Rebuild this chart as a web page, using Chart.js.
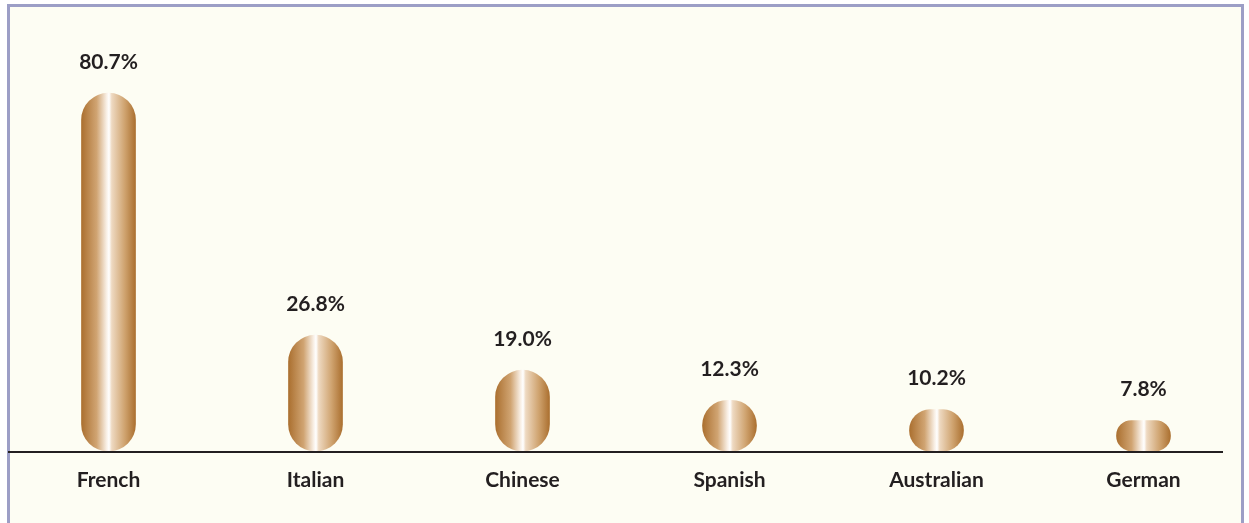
<!DOCTYPE html>
<html>
<head>
<meta charset="utf-8">
<script src="https://cdn.jsdelivr.net/npm/chart.js@4/dist/chart.umd.min.js"></script>
<style>
  html, body { margin: 0; padding: 0; background: #ffffff; }
  #frame {
    position: absolute; left: 7px; top: 4px; width: 1231px; height: 530px;
    border: 3px solid #9c9ec6; border-bottom: none; background: #fdfdf3;
  }
  #wrap { position: absolute; left: 0; top: 0; width: 1249px; height: 523px; }
</style>
</head>
<body>
<div id="frame"></div>
<div id="wrap"><canvas id="chart"></canvas></div>
<script>
'use strict';

// data
const cuisines = ['French', 'Italian', 'Chinese', 'Spanish', 'Australian', 'German'];
const shares = [80.7, 26.8, 19.0, 12.3, 10.2, 7.8];
const shareLabels = ['80.7%', '26.8%', '19.0%', '12.3%', '10.2%', '7.8%'];

const textColor = '#231f20';
const fontFamily = 'Lato, "Open Sans", sans-serif';
const barWidth = 54;

// bronze pill with a soft white highlight down the middle
function bronze(ctx) {
    const chart = ctx.chart;
    const xScale = chart.scales && chart.scales.x;
    const cx = xScale ? xScale.getPixelForValue(ctx.dataIndex) : NaN;
    if (!isFinite(cx)) return '#c89660';
    const g = chart.ctx.createLinearGradient(cx - barWidth / 2, 0, cx + barWidth / 2, 0);
    g.addColorStop(0, '#ab7030');
    g.addColorStop(0.28, '#d0a472');
    g.addColorStop(0.46, '#f8eee3');
    g.addColorStop(0.51, '#ffffff');
    g.addColorStop(0.56, '#eed9c1');
    g.addColorStop(0.8, '#cfa36f');
    g.addColorStop(1, '#ab7030');
    return g;
}

const valueLabels = {
    id: 'valueLabels',
    afterDatasetsDraw(chart) {
        const c = chart.ctx;
        const area = chart.chartArea;
        // baseline
        c.save();
        c.strokeStyle = textColor;
        c.lineWidth = 2;
        c.beginPath();
        c.moveTo(8, area.bottom + 1);
        c.lineTo(1223, area.bottom + 1);
        c.stroke();
        // percentages above bars
        c.fillStyle = textColor;
        c.font = 'bold 21px ' + fontFamily;
        c.textAlign = 'center';
        c.textBaseline = 'middle';
        chart.getDatasetMeta(0).data.forEach((bar, i) => {
            c.fillText(shareLabels[i], bar.x, bar.y - 31);
        });
        c.restore();
    }
};

const chart = new Chart(document.getElementById('chart'), {
    type: 'bar',
    data: {
        labels: cuisines,
        datasets: [{
            data: shares,
            base: 1,
            backgroundColor: bronze,
            barThickness: barWidth,
            borderRadius: barWidth / 2,
            borderSkipped: false,
            borderWidth: 0
        }]
    },
    options: {
        responsive: true,
        maintainAspectRatio: false,
        animation: false,
        layout: { padding: { left: 5, right: 2, top: 20, bottom: 0 } },
        plugins: { legend: { display: false }, tooltip: { enabled: false } },
        scales: {
            x: {
                grid: { display: false, drawTicks: false },
                border: { display: false },
                ticks: {
                    color: textColor,
                    font: { family: fontFamily, size: 21, weight: 'bold' },
                    padding: 17,
                    maxRotation: 0
                },
                afterFit(scale) { scale.height = 72; }
            },
            y: {
                display: false,
                min: 1,
                max: 97
            }
        }
    },
    plugins: [valueLabels]
});
chart.update();
</script>
</body>
</html>
